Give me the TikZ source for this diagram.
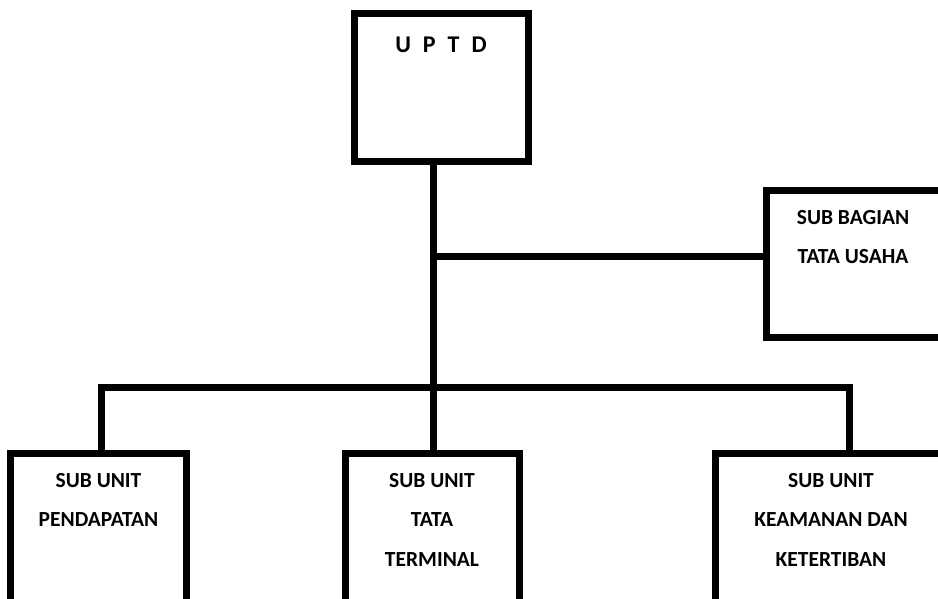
\documentclass[tikz,border=0pt]{standalone}
\usepackage{fontspec}
\setmainfont{Carlito}
\usetikzlibrary{positioning}

\begin{document}
\begin{tikzpicture}[
  x=1pt,y=-1pt,
  unit/.style={draw, line width=7pt, outer sep=0pt, inner sep=0pt},
  txt/.style={inner sep=0pt, align=center, font=\fontsize{21.5}{39.5}\selectfont\bfseries},
  link/.style={line width=7pt, line join=miter}
]
\useasboundingbox (0,0) rectangle (938,598);
\clip (0,0) rectangle (938,598);

% boxes
\node[unit, minimum width=174pt, minimum height=148pt] (uptd) at (441,87) {};
\node[unit, minimum width=190pt, minimum height=147pt] (tu) at (861,263.5) {};
\node[unit, minimum width=176.5pt, minimum height=250pt] (pend) at (98.5,578) {};
\node[unit, minimum width=174pt, minimum height=250pt] (term) at (432,578) {};
\node[unit, minimum width=232pt, minimum height=250pt] (kam) at (831,578) {};

% labels
\node[inner sep=0pt, font=\fontsize{24}{28}\selectfont\bfseries, below=24pt of uptd.north] (uptdtxt) {\spaceskip=12pt U P T D};
\node[txt, below=20pt of tu.north, xshift=-8pt] (tutxt) {SUB BAGIAN\\TATA USAHA};
\node[txt, below=20pt of pend.north] (pendtxt) {SUB UNIT\\PENDAPATAN};
\node[txt, below=20pt of term.north] (termtxt) {SUB UNIT\\TATA\\TERMINAL};
\node[txt, below=20pt of kam.north] (kamtxt) {SUB UNIT\\KEAMANAN DAN\\KETERTIBAN};

% lines
\coordinate (fork) at (433.5,256);
\coordinate (bus) at (433.5,387);
\draw[link] (uptd.south -| bus) -- (bus) -- (bus |- term.north);
\draw[link] (fork) -- (fork -| tu.west);
\draw[link] ([xshift=2.5pt]pend.north) |- (bus) -| ([xshift=18pt]kam.north);

\end{tikzpicture}
\end{document}
